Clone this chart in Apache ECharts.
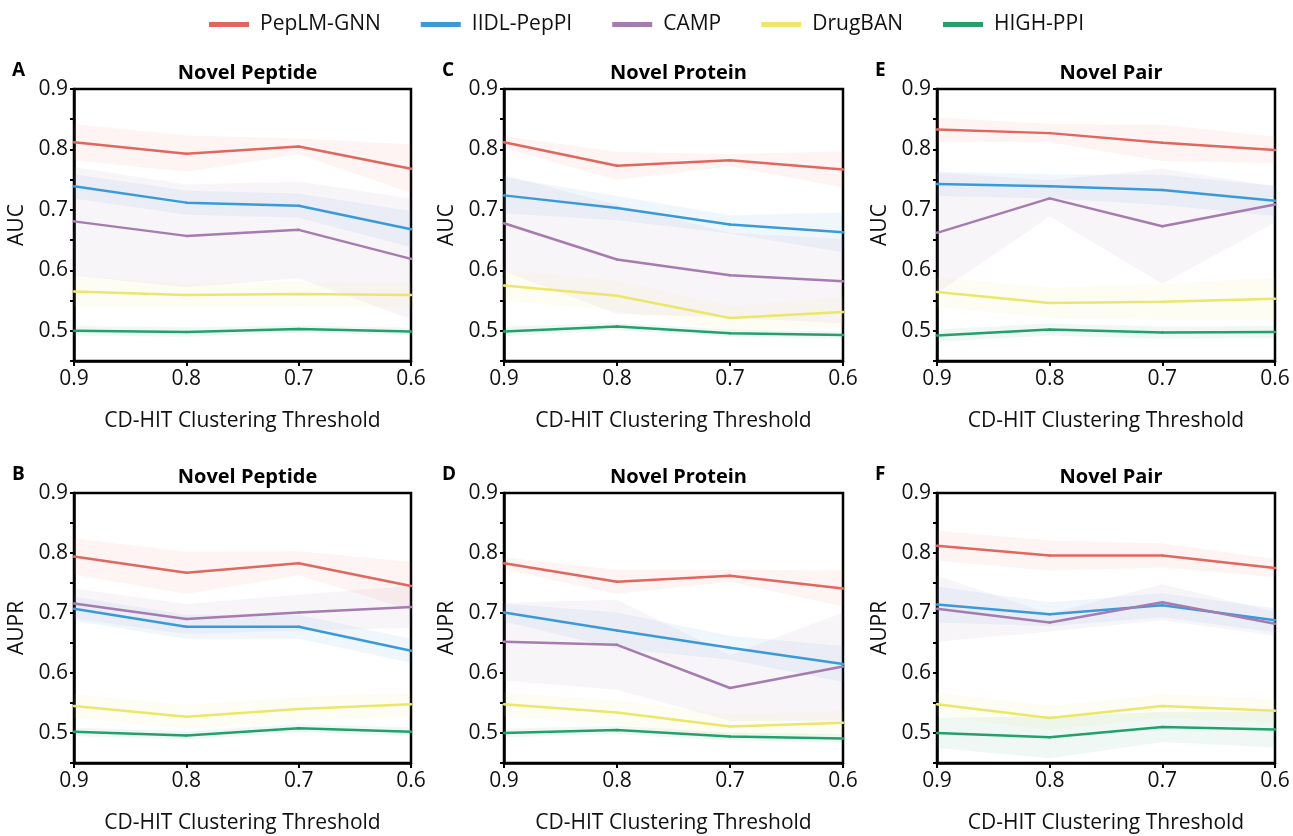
<!DOCTYPE html>
<html>
<head>
<meta charset="utf-8">
<script src="https://cdn.jsdelivr.net/npm/echarts@6/dist/echarts.min.js"></script>
<style>
  html, body { margin: 0; padding: 0; background: #fff; }
  #main { width: 1293px; height: 836px; }
</style>
</head>
<body>
<div id="main"></div>
<script>
var chartDom = document.getElementById('main');
var myChart = echarts.init(chartDom);

var thresholds = ['0.9', '0.8', '0.7', '0.6'];
var models = ['PepLM-GNN', 'IIDL-PepPI', 'CAMP', 'DrugBAN', 'HIGH-PPI'];
var colors = ['#E0675E', '#3A9AD9', '#A57BB0', '#ECE66B', '#23A06B'];
var yTicks = ['0.5', '0.6', '0.7', '0.8', '0.9'];

// mean values, one row per model (order as in models)
var peptideAuc = [
  [0.812, 0.793, 0.805, 0.768],
  [0.739, 0.712, 0.707, 0.668],
  [0.681, 0.657, 0.667, 0.619],
  [0.565, 0.559, 0.561, 0.559],
  [0.500, 0.498, 0.503, 0.499]
];
var peptideAucStd = [
  [0.030, 0.030, 0.013, 0.040],
  [0.020, 0.020, 0.020, 0.030],
  [0.090, 0.085, 0.080, 0.100],
  [0.025, 0.020, 0.020, 0.020],
  [0.008, 0.008, 0.006, 0.006]
];
var proteinAuc = [
  [0.812, 0.773, 0.782, 0.767],
  [0.724, 0.703, 0.676, 0.663],
  [0.678, 0.618, 0.592, 0.582],
  [0.575, 0.558, 0.521, 0.531],
  [0.499, 0.507, 0.496, 0.493]
];
var proteinAucStd = [
  [0.010, 0.023, 0.010, 0.030],
  [0.030, 0.020, 0.015, 0.033],
  [0.080, 0.090, 0.070, 0.070],
  [0.025, 0.025, 0.020, 0.025],
  [0.008, 0.006, 0.006, 0.006]
];
var pairAuc = [
  [0.833, 0.827, 0.811, 0.799],
  [0.743, 0.739, 0.733, 0.715],
  [0.662, 0.719, 0.673, 0.709],
  [0.564, 0.546, 0.548, 0.553],
  [0.492, 0.502, 0.497, 0.498]
];
var pairAucStd = [
  [0.020, 0.015, 0.030, 0.022],
  [0.020, 0.020, 0.025, 0.025],
  [0.100, 0.030, 0.095, 0.030],
  [0.025, 0.025, 0.030, 0.035],
  [0.010, 0.010, 0.010, 0.010]
];
var peptideAupr = [
  [0.794, 0.767, 0.783, 0.745],
  [0.707, 0.677, 0.677, 0.637],
  [0.716, 0.690, 0.701, 0.710],
  [0.545, 0.527, 0.540, 0.548],
  [0.502, 0.496, 0.508, 0.502]
];
var peptideAuprStd = [
  [0.030, 0.035, 0.020, 0.040],
  [0.020, 0.020, 0.020, 0.020],
  [0.025, 0.025, 0.030, 0.035],
  [0.020, 0.020, 0.020, 0.020],
  [0.007, 0.007, 0.007, 0.007]
];
var proteinAupr = [
  [0.783, 0.752, 0.762, 0.741],
  [0.701, 0.671, 0.642, 0.615],
  [0.652, 0.647, 0.575, 0.611],
  [0.548, 0.534, 0.511, 0.517],
  [0.500, 0.505, 0.494, 0.491]
];
var proteinAuprStd = [
  [0.010, 0.020, 0.010, 0.030],
  [0.015, 0.030, 0.020, 0.030],
  [0.065, 0.075, 0.055, 0.090],
  [0.020, 0.020, 0.020, 0.020],
  [0.007, 0.007, 0.007, 0.007]
];
var pairAupr = [
  [0.812, 0.796, 0.796, 0.775],
  [0.714, 0.698, 0.713, 0.688],
  [0.707, 0.684, 0.718, 0.682],
  [0.548, 0.525, 0.545, 0.537],
  [0.500, 0.493, 0.510, 0.506]
];
var pairAuprStd = [
  [0.025, 0.025, 0.020, 0.015],
  [0.030, 0.020, 0.020, 0.020],
  [0.055, 0.015, 0.030, 0.020],
  [0.020, 0.020, 0.020, 0.020],
  [0.025, 0.035, 0.025, 0.030]
];

var FONT = 'Open Sans';

// panel layout: letter, title, metric, data
var panels = [
  {letter: 'A', title: 'Novel Peptide', metric: 'AUC',  mean: peptideAuc,  std: peptideAucStd,  left: 74,  top: 89,  width: 337, height: 272},
  {letter: 'C', title: 'Novel Protein', metric: 'AUC',  mean: proteinAuc,  std: proteinAucStd,  left: 504, top: 89,  width: 339, height: 272},
  {letter: 'E', title: 'Novel Pair',    metric: 'AUC',  mean: pairAuc,     std: pairAucStd,     left: 937, top: 89,  width: 338, height: 272},
  {letter: 'B', title: 'Novel Peptide', metric: 'AUPR', mean: peptideAupr, std: peptideAuprStd, left: 74,  top: 493, width: 337, height: 270},
  {letter: 'D', title: 'Novel Protein', metric: 'AUPR', mean: proteinAupr, std: proteinAuprStd, left: 504, top: 493, width: 339, height: 270},
  {letter: 'F', title: 'Novel Pair',    metric: 'AUPR', mean: pairAupr,    std: pairAuprStd,    left: 937, top: 493, width: 338, height: 270}
];

var grids = [], xAxes = [], yAxes = [], series = [], titles = [];

panels.forEach(function (p, pi) {
  grids.push({
    left: p.left, top: p.top, width: p.width, height: p.height,
    show: true, borderColor: '#000', borderWidth: 2.5, backgroundColor: 'transparent'
  });
  xAxes.push({
    type: 'category', gridIndex: pi, data: thresholds, boundaryGap: false,
    name: 'CD-HIT Clustering Threshold', nameLocation: 'middle', nameGap: 50,
    nameTextStyle: {fontFamily: FONT, fontSize: 21, color: '#111'},
    axisLine: {lineStyle: {color: '#000', width: 2.5}},
    axisTick: {show: true, inside: false, length: 5, lineStyle: {color: '#000', width: 2}},
    axisLabel: {fontFamily: FONT, fontSize: 21, color: '#111', margin: 8},
    splitLine: {show: false}
  });
  yAxes.push({
    type: 'value', gridIndex: pi, min: 0.45, max: 0.9, interval: 0.05,
    name: p.metric, nameLocation: 'middle', nameGap: 46, nameRotate: 90,
    nameTextStyle: {fontFamily: FONT, fontSize: 21, color: '#111'},
    axisLine: {show: true, lineStyle: {color: '#000', width: 2.5}},
    axisTick: {show: true, length: 4, lineStyle: {color: '#000', width: 2}},
    axisLabel: {
      fontFamily: FONT, fontSize: 21, color: '#111', margin: 6,
      formatter: function (v) {
        var s = v.toFixed(1);
        return yTicks.indexOf(s) >= 0 && Math.abs(v - parseFloat(s)) < 1e-6 ? s : '';
      }
    },
    splitLine: {show: false}
  });
  titles.push({
    text: p.title, left: p.left + p.width / 2, top: p.top - 31, textAlign: 'center',
    textStyle: {fontFamily: FONT, fontSize: 20, fontWeight: 'bold', color: '#000'}
  });
  titles.push({
    text: p.letter, left: p.left - 67, top: p.top - 33,
    textStyle: {fontFamily: FONT, fontSize: 19, fontWeight: 'bold', color: '#000'}
  });

  models.forEach(function (m, mi) {
    var mean = p.mean[mi], sd = p.std[mi];
    var stackId = 'band' + pi + '_' + mi;
    series.push({
      type: 'line', xAxisIndex: pi, yAxisIndex: pi, stack: stackId,
      data: mean.map(function (v, i) { return +(v - sd[i]).toFixed(4); }),
      symbol: 'none', lineStyle: {opacity: 0}, silent: true, z: 1
    });
    series.push({
      type: 'line', xAxisIndex: pi, yAxisIndex: pi, stack: stackId,
      data: sd.map(function (s) { return +(2 * s).toFixed(4); }),
      symbol: 'none', lineStyle: {opacity: 0}, silent: true, z: 1,
      areaStyle: {color: colors[mi], opacity: 0.075}
    });
    series.push({
      name: m, type: 'line', xAxisIndex: pi, yAxisIndex: pi,
      data: mean, symbol: 'circle', symbolSize: 2.5, z: 3,
      color: colors[mi],
      lineStyle: {color: colors[mi], width: 2.5},
      itemStyle: {color: colors[mi]}
    });
  });
});

var option = {
  backgroundColor: '#fff',
  animation: false,
  title: titles,
  legend: {
    data: models, top: 9, left: 'center',
    icon: 'rect', itemWidth: 40, itemHeight: 5, itemGap: 40,
    textStyle: {fontFamily: FONT, fontSize: 21, color: '#111', padding: [0, 0, 0, 6]}
  },
  grid: grids,
  xAxis: xAxes,
  yAxis: yAxes,
  series: series
};

myChart.setOption(option);
</script>
</body>
</html>
